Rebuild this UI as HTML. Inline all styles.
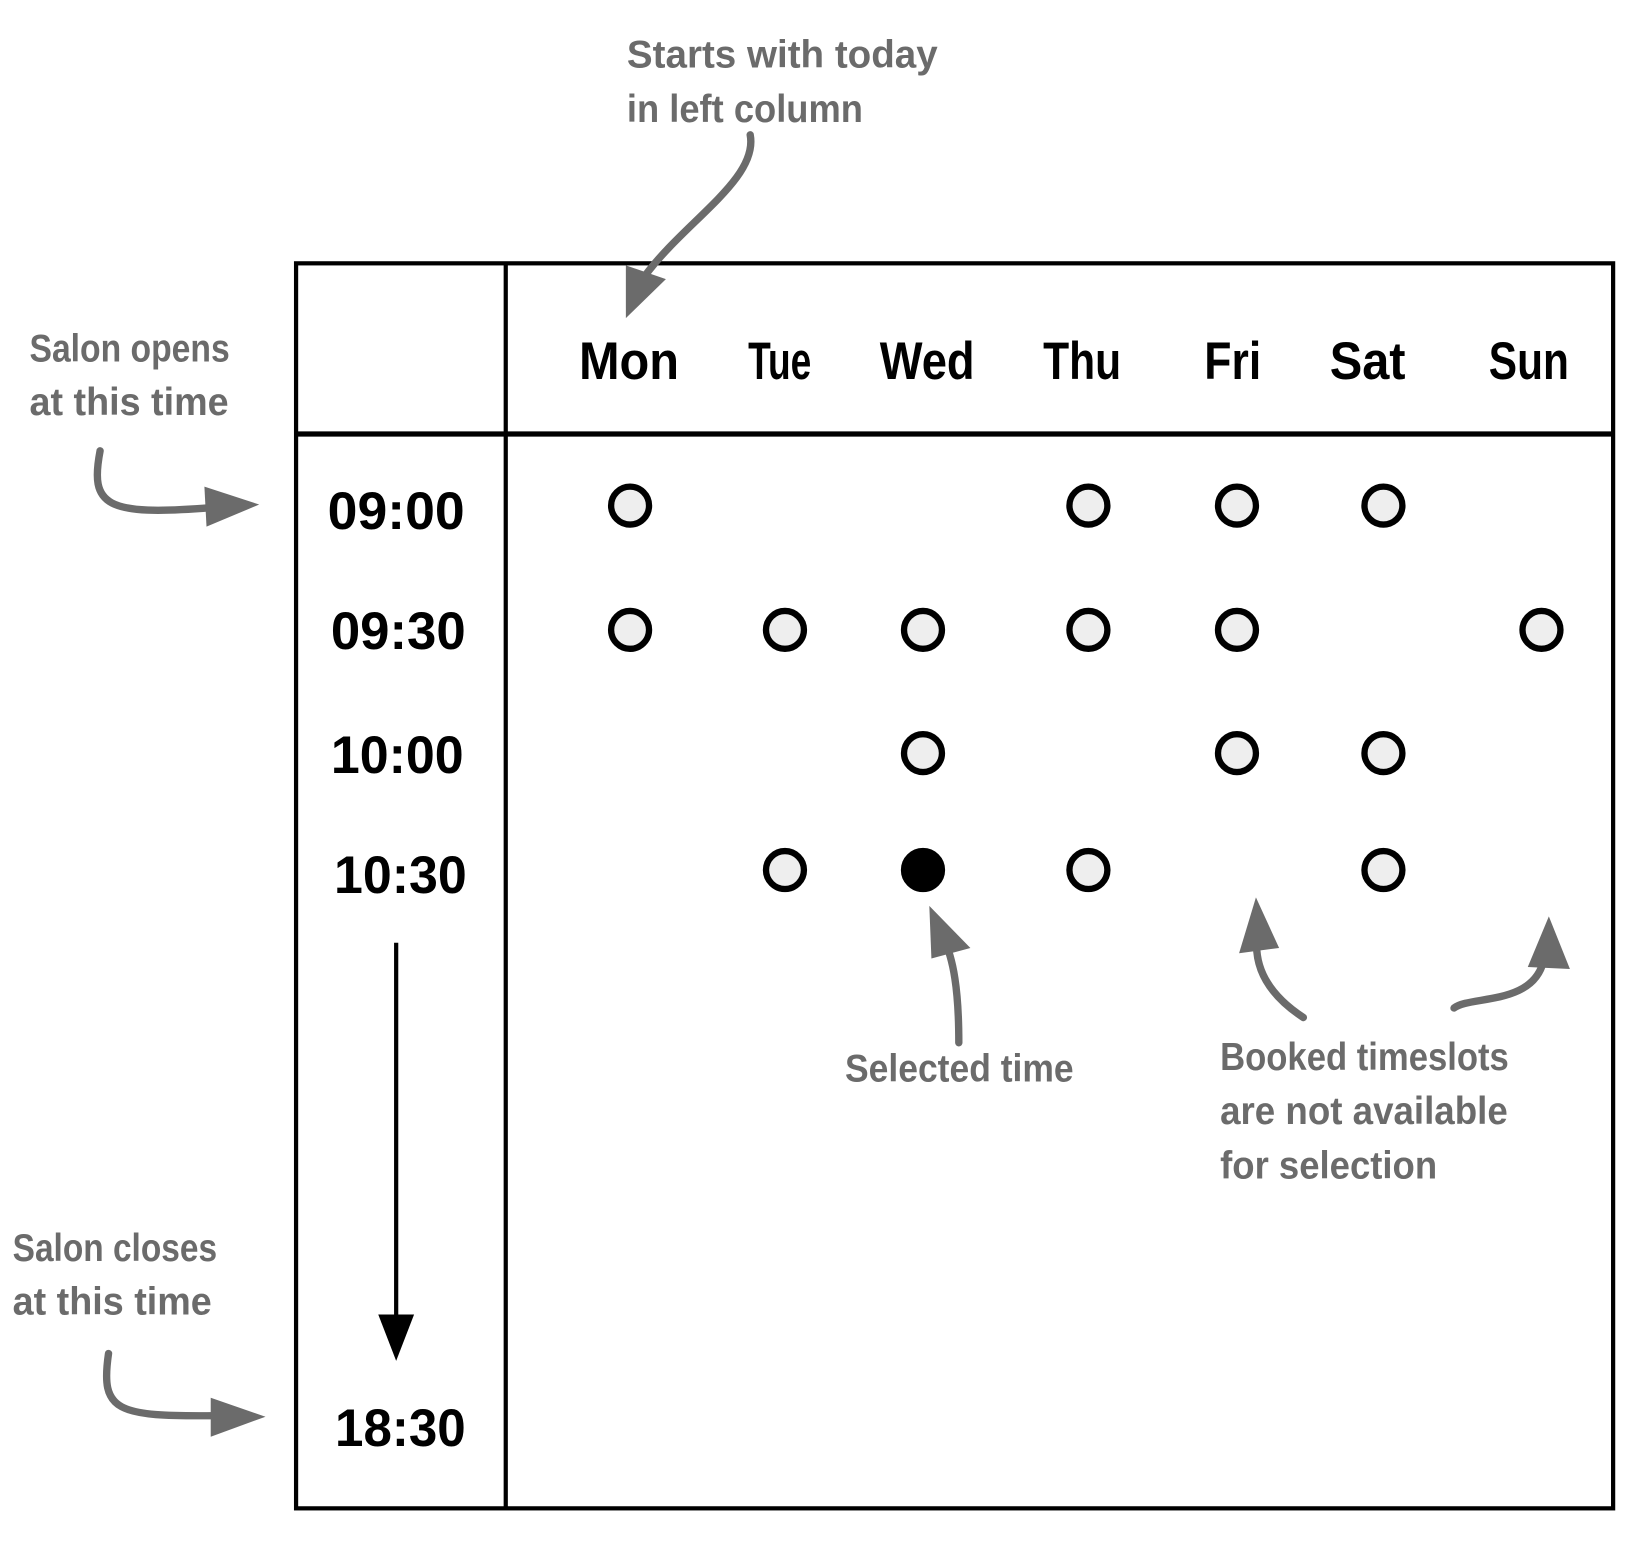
<!DOCTYPE html>
<html><head><meta charset="utf-8"><style>
html,body{margin:0;padding:0;background:#fff;}
svg{display:block;}
.day{font-family:"Liberation Sans Narrow","Liberation Sans",sans-serif;font-weight:bold;font-size:50px;fill:#000;text-anchor:middle;}
.tm{font-family:"Liberation Sans Narrow","Liberation Sans",sans-serif;font-weight:bold;font-size:50px;fill:#000;text-anchor:middle;}
.ann{font-family:"Liberation Sans Narrow","Liberation Sans",sans-serif;font-weight:bold;font-size:37px;fill:#6b6b6b;}
</style></head><body>
<svg width="1650" height="1541" viewBox="0 0 1566 1463" preserveAspectRatio="none" xmlns="http://www.w3.org/2000/svg">
<rect x="281" y="250" width="1250" height="1182" fill="none" stroke="#000" stroke-width="4"/>
<line x1="480" y1="250" x2="480" y2="1432" stroke="#000" stroke-width="4"/>
<line x1="281" y1="412" x2="1531" y2="412" stroke="#000" stroke-width="5"/>
<text class="day" x="597" y="360" textLength="95" lengthAdjust="spacingAndGlyphs">Mon</text>
<text class="day" x="740" y="360" textLength="60" lengthAdjust="spacingAndGlyphs">Tue</text>
<text class="day" x="880" y="360" textLength="90" lengthAdjust="spacingAndGlyphs">Wed</text>
<text class="day" x="1027" y="360" textLength="74" lengthAdjust="spacingAndGlyphs">Thu</text>
<text class="day" x="1170" y="360" textLength="54" lengthAdjust="spacingAndGlyphs">Fri</text>
<text class="day" x="1298" y="360" textLength="72" lengthAdjust="spacingAndGlyphs">Sat</text>
<text class="day" x="1451" y="360" textLength="76" lengthAdjust="spacingAndGlyphs">Sun</text>
<text class="tm" x="376" y="502" textLength="130" lengthAdjust="spacingAndGlyphs">09:00</text>
<text class="tm" x="378" y="616" textLength="128" lengthAdjust="spacingAndGlyphs">09:30</text>
<text class="tm" x="377" y="734" textLength="126" lengthAdjust="spacingAndGlyphs">10:00</text>
<text class="tm" x="380" y="848" textLength="126" lengthAdjust="spacingAndGlyphs">10:30</text>
<text class="tm" x="380" y="1373" textLength="124" lengthAdjust="spacingAndGlyphs">18:30</text>
<g fill="#eee" stroke="#000" stroke-width="6">
<circle cx="598" cy="480" r="18"/><circle cx="1033" cy="480" r="18"/><circle cx="1174" cy="480" r="18"/><circle cx="1313" cy="480" r="18"/>
<circle cx="598" cy="598" r="18"/><circle cx="745" cy="598" r="18"/><circle cx="876" cy="598" r="18"/><circle cx="1033" cy="598" r="18"/><circle cx="1174" cy="598" r="18"/><circle cx="1463" cy="598" r="18"/>
<circle cx="876" cy="715" r="18"/><circle cx="1174" cy="715" r="18"/><circle cx="1313" cy="715" r="18"/>
<circle cx="745" cy="826" r="18"/><circle cx="1033" cy="826" r="18"/><circle cx="1313" cy="826" r="18"/>
<circle cx="876" cy="826" r="18" fill="#000"/>
</g>
<line x1="376" y1="895" x2="376" y2="1255" stroke="#000" stroke-width="4"/>
<polygon points="359,1248 393,1248 376,1292" fill="#000"/>
<g fill="none" stroke="#6b6b6b" stroke-width="7" stroke-linecap="round">
<path d="M712,128 C720,170 650,210 612,262"/>
<path d="M95,428 C85,480 100,490 200,482"/>
<path d="M103,1285 C95,1340 110,1345 205,1344"/>
<path d="M910,990 C910,940 905,910 895,890"/>
<path d="M1237,966 C1205,945 1190,920 1193,890"/>
<path d="M1380,957 C1395,945 1455,955 1465,912"/>
</g>
<g fill="#6b6b6b">
<polygon points="594,302 594,252 632,265"/>
<polygon points="246,479 194,462 196,500"/>
<polygon points="252,1345 200,1327 200,1364"/>
<polygon points="882,860 921,900 884,910"/>
<polygon points="1192,852 1176,905 1214,900"/>
<polygon points="1470,870 1450,918 1490,920"/>
</g>
<text class="ann" x="595" y="64" textLength="295" lengthAdjust="spacingAndGlyphs">Starts with today</text>
<text class="ann" x="595" y="116" textLength="224" lengthAdjust="spacingAndGlyphs">in left column</text>
<text class="ann" x="28" y="343" textLength="190" lengthAdjust="spacingAndGlyphs">Salon opens</text>
<text class="ann" x="28" y="394" textLength="189" lengthAdjust="spacingAndGlyphs">at this time</text>
<text class="ann" x="12" y="1197" textLength="194" lengthAdjust="spacingAndGlyphs">Salon closes</text>
<text class="ann" x="12" y="1248" textLength="189" lengthAdjust="spacingAndGlyphs">at this time</text>
<text class="ann" x="802" y="1027" textLength="217" lengthAdjust="spacingAndGlyphs">Selected time</text>
<text class="ann" x="1158" y="1016" textLength="274" lengthAdjust="spacingAndGlyphs">Booked timeslots</text>
<text class="ann" x="1158" y="1067" textLength="273" lengthAdjust="spacingAndGlyphs">are not available</text>
<text class="ann" x="1158" y="1119" textLength="206" lengthAdjust="spacingAndGlyphs">for selection</text>
</svg>
</body></html>
